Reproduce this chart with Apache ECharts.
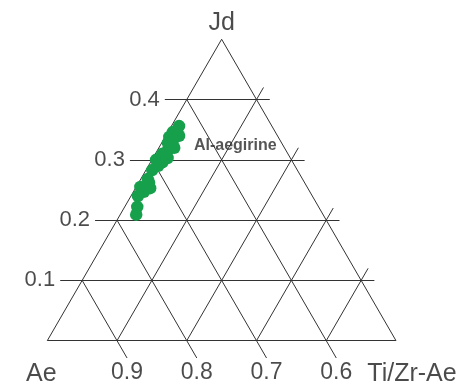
<!DOCTYPE html>
<html>
<head>
<meta charset="utf-8">
<script src="https://cdn.jsdelivr.net/npm/echarts@6/dist/echarts.min.js"></script>
<style>
  html, body { margin: 0; padding: 0; background: #fff; }
  #chart { width: 464px; height: 386px; }
</style>
</head>
<body>
<div id="chart"></div>
<script>
// Ternary sub-triangle Ae–Jd–Ti/Zr-Ae (Ae >= 0.5), drawn on a hidden cartesian grid.
const cornerNames = ['Jd', 'Ae', 'Ti/Zr-Ae'];
const jdTicks = [0.1, 0.2, 0.3, 0.4];          // horizontal lines, labelled on the left
const aeTicks = [0.9, 0.8, 0.7, 0.6];          // lines parallel to the right edge, labelled below
const tiLines = [0.1, 0.2, 0.3, 0.4];          // lines parallel to the left edge
const fieldName = 'Al-aegirine';
const fieldAt = { jd: 0.323, ti: 0.108 };

// Clinopyroxene analyses: Jd and Ti/Zr-Ae fractions (Ae = 1 - Jd - Ti)
const sampleJd = [0.356, 0.340, 0.346, 0.338, 0.333, 0.320, 0.328, 0.315, 0.303, 0.310,
                  0.300, 0.296, 0.290, 0.283, 0.268, 0.262, 0.253, 0.255, 0.247, 0.240, 0.222, 0.209];
const sampleTi = [0.011, 0.019, 0.007, 0.006, 0.014, 0.022, 0.009, 0.015, 0.021, 0.010,
                  0.006, 0.017, 0.014, 0.009, 0.010, 0.015, 0.021, 0.006, 0.015, 0.010, 0.018, 0.023];

const S3 = Math.sqrt(3) / 2;
// ternary (Jd, Ti) -> plane coordinates of an equilateral triangle with Ae at the origin
function tern(jd, ti) { return [ti + jd / 2, jd * S3]; }
function shift(p, dx, dy) { return [p[0] + dx, p[1] + dy]; }

const TICK_L = 0.0315;   // left tick length for Jd lines
const TICK_R = 0.019;    // overshoot past the right edge
const TICK_B = 0.0287;   // tick below the base for Ae lines
const TICK_U = 0.02;     // overshoot of Ti lines past the right edge

const segs = [];
// outline
const cAe = tern(0, 0), cJd = tern(0.5, 0), cTi = tern(0, 0.5);
segs.push([cAe, cJd], [cJd, cTi], [cTi, cAe]);
// Jd = const
jdTicks.forEach(j => {
  segs.push([tern(j, -TICK_L), tern(j, 0.5 - j + TICK_R)]);
});
// Ae = const: from base to left edge, with a tick below the base
aeTicks.forEach(a => {
  const base = tern(0, 1 - a);
  segs.push([shift(base, TICK_B * 0.5, -TICK_B * S3), tern(1 - a, 0)]);
});
// Ti = const: from base to right edge, overshooting a little
tiLines.forEach(t => {
  const top = tern(0.5 - t, t);
  segs.push([tern(0, t), shift(top, TICK_U * 0.5, TICK_U * S3)]);
});

const samples = sampleJd.map((j, i) => tern(j, sampleTi[i]));

const textFont = '"Liberation Sans", Arial, Helvetica, sans-serif';

const chart = echarts.init(document.getElementById('chart'), null, { renderer: 'canvas' });
chart.setOption({
  animation: false,
  backgroundColor: '#ffffff',
  grid: { left: 0, right: 0, top: 0, bottom: 0 },
  xAxis: { type: 'value', min: -0.0678, max: 0.5975, show: false },
  yAxis: { type: 'value', min: -0.0651, max: 0.4894, show: false },
  series: [
    {
      type: 'lines',
      coordinateSystem: 'cartesian2d',
      silent: true,
      z: 1,
      lineStyle: { color: '#333333', width: 1, opacity: 1, curveness: 0 },
      data: segs.map(s => ({ coords: s }))
    },
    {
      // left Jd labels
      type: 'scatter',
      symbolSize: 0,
      silent: true,
      z: 3,
      data: jdTicks.map(j => ({ name: j.toFixed(1), value: tern(j, -TICK_L) })),
      label: {
        show: true, position: 'left', distance: 5, formatter: '{b}',
        fontFamily: textFont, fontSize: 22, color: '#1e1e1e'
      }
    },
    {
      // bottom Ae labels
      type: 'scatter',
      symbolSize: 0,
      silent: true,
      z: 3,
      data: aeTicks.map(a => ({ name: a.toFixed(1), value: shift(tern(0, 1 - a), TICK_B * 0.5, -TICK_B * S3) })),
      label: {
        show: true, position: 'bottom', distance: 3, formatter: '{b}',
        fontFamily: textFont, fontSize: 23, color: '#1e1e1e'
      }
    },
    {
      // corner names
      type: 'scatter',
      symbolSize: 0,
      silent: true,
      z: 3,
      data: [
        { name: cornerNames[0], value: cJd, label: { offset: [0, -16], fontSize: 25 } },
        { name: cornerNames[1], value: cAe, label: { offset: [-6, 33] } },
        { name: cornerNames[2], value: cTi, label: { offset: [16, 33] } }
      ],
      label: {
        show: true, position: 'inside', formatter: '{b}',
        fontFamily: textFont, fontSize: 25, color: '#1e1e1e'
      }
    },
    {
      type: 'scatter',
      symbolSize: 0,
      silent: true,
      z: 3,
      data: [{ name: fieldName, value: tern(fieldAt.jd, fieldAt.ti) }],
      label: {
        show: true, position: 'inside', formatter: '{b}',
        fontFamily: textFont, fontSize: 16, fontWeight: 'bold', color: '#2a2a2a'
      }
    },
    {
      type: 'scatter',
      symbol: 'circle',
      symbolSize: 12.5,
      z: 4,
      itemStyle: { color: '#17a04b', opacity: 1 },
      data: samples
    }
  ]
});
</script>
</body>
</html>
